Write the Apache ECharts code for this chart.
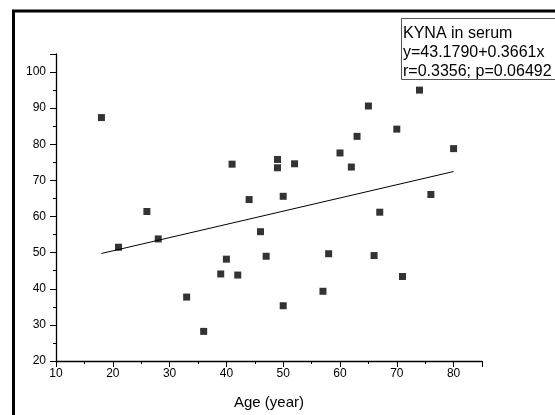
<!DOCTYPE html>
<html><head><meta charset="utf-8">
<script src="https://cdn.jsdelivr.net/npm/echarts@6/dist/echarts.min.js"></script>
<style>html,body{margin:0;padding:0;background:#fff}#c{width:555px;height:415px}</style>
</head><body><div id="c"></div>
<script>
var ages = [18,65,74,70,63,80,60,41,49,49,52,62,44,50,26,67,76,28,21,46,58,66,47,40,39,42,71,33,36,50,57];
var kyna = [87.4,90.6,95.0,84.2,82.2,78.8,77.6,74.5,75.8,73.5,74.6,73.7,64.7,65.6,61.4,61.2,66.1,53.8,51.5,55.8,49.7,49.2,49.0,48.2,44.1,43.8,43.4,37.7,28.2,35.3,39.3];
var intercept = 43.1790, slope = 0.3661;
var fitRange = [18, 80];
var legendLines = ['KYNA in serum','y=43.1790+0.3661x','r=0.3356; p=0.06492'];
var xTicks = [10,20,30,40,50,60,70,80];
var yTicks = [20,30,40,50,60,70,80,90,100];

var pts = ages.map(function(a,i){return [a,kyna[i]];});
var fit = fitRange.map(function(x){return [x, intercept+slope*x];});
var font = 'Liberation Sans, Arial, sans-serif';
var chart = echarts.init(document.getElementById('c'));
chart.setOption({
  animation:false,
  grid:{left:56,right:73,top:54,bottom:47,containLabel:false},
  xAxis:{type:'value',min:10,max:85,interval:10,
    name:'Age (year)',nameLocation:'middle',nameGap:34,
    nameTextStyle:{fontFamily:font,fontSize:15,color:'#000'},
    axisLine:{lineStyle:{color:'#000',width:1.3}},
    axisTick:{length:6,lineStyle:{color:'#000'}},
    minorTick:{show:true,splitNumber:2,length:3,lineStyle:{color:'#000'}},
    splitLine:{show:false},
    axisLabel:{fontFamily:font,fontSize:12,color:'#000',margin:7,
      formatter:function(v){return xTicks.indexOf(v)>=0?String(v):'';}}},
  yAxis:{type:'value',min:20,max:105,interval:10,
    axisLine:{show:true,lineStyle:{color:'#000',width:1.3}},
    axisTick:{show:true,length:6,lineStyle:{color:'#000'}},
    minorTick:{show:true,splitNumber:2,length:3,lineStyle:{color:'#000'}},
    splitLine:{show:false},
    axisLabel:{fontFamily:font,fontSize:12,color:'#000',margin:10,
      formatter:function(v){return yTicks.indexOf(v)>=0?String(v):'';}}},
  series:[
    {type:'scatter',data:pts,symbol:'rect',symbolSize:7,itemStyle:{color:'#000'}},
    {type:'line',data:fit,symbol:'none',lineStyle:{color:'#000',width:1}}
  ],
  graphic:[
    {type:'rect',shape:{x:13.5,y:11,width:600,height:500},style:{fill:null,stroke:'#000',lineWidth:3}},
    {type:'rect',shape:{x:401.5,y:18.5,width:200,height:61},style:{fill:'#fff',stroke:'#555',lineWidth:1}},
    {type:'text',left:403,top:24,style:{text:legendLines.join('\n'),font:'16px '+font,fill:'#000',lineHeight:19}}
  ]
});
</script></body></html>
